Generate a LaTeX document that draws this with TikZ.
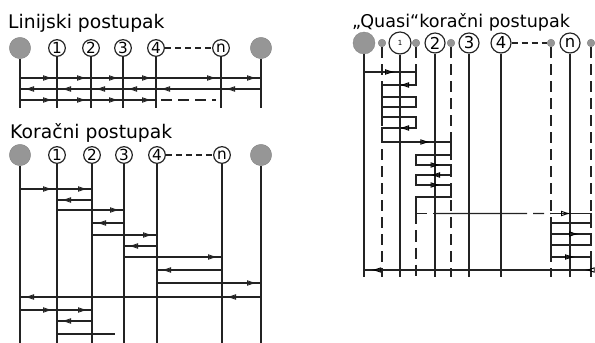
\documentclass[tikz,border=0pt]{standalone}
\usepackage{fontspec}
\setmainfont{DejaVu Sans}
\usetikzlibrary{positioning,arrows.meta,calc,decorations.markings}
\definecolor{InkGray}{RGB}{35,35,35}
\definecolor{DotGray}{RGB}{150,150,150}
\tikzset{
  stn/.style={circle, draw=InkGray, line width=1pt, fill=white, inner sep=0pt,
    minimum size=5mm, font=\fontsize{13}{13}\selectfont},
  bigstn/.style={stn, minimum size=6mm, font=\fontsize{14}{14}\selectfont},
  grd/.style={circle, fill=DotGray, draw=DotGray!85!black, line width=0.3pt,
    inner sep=0pt, minimum size=6.4mm},
  sgrd/.style={grd, minimum size=2.3mm},
  wire/.style={draw=InkGray, line width=1.15pt},
  dwire/.style={draw=InkGray, line width=1pt, dash pattern=on 3.3mm off 1.8mm},
  link/.style={draw=InkGray, line width=1pt, dash pattern=on 1.8mm off 1.2mm},
  ttl/.style={anchor=base west, inner sep=0pt, font=\fontsize{16}{18}\selectfont},
  fw/.style={postaction={decorate}, decoration={markings,
    mark=at position #1 with {\arrow{Latex[open, length=3mm, width=1.7mm, line width=0.8pt]}}}}
}

\begin{document}
\begin{tikzpicture}[x=0.3mm, y=-0.3mm]
\useasboundingbox (0,0) rectangle (595,343);

% Linijski postupak
\node[ttl] (t1) at (8,29) {Linijski postupak};
\node[grd] (la) at (20,48) {};
\node[stn] (l1) at (57,48) {1};
\node[stn] (l2) at (91,48) {2};
\node[stn] (l3) at (123,48) {3};
\node[stn] (l4) at (156,48) {4};
\node[stn] (ln) at (221,48) {n};
\node[grd] (lb) at (261,48) {};
\draw[link] (l4) -- (ln);
\foreach \s in {la,l1,l2,l3,l4,ln,lb} \draw[wire] (\s) -- (\s |- 0,108);
\foreach \a/\b in {la/l1,l1/l2,l2/l3,l3/l4,l4/ln,ln/lb}
  \draw[wire, fw=-1.2mm] (\a |- 0,78) -- (\b |- 0,78);
\foreach \a/\b in {lb/ln,ln/l4,l4/l3,l3/l2,l2/l1,l1/la}
  \draw[wire, fw=-1.2mm] (\a |- 0,89) -- (\b |- 0,89);
\foreach \a/\b in {la/l1,l1/l2,l2/l3,l3/l4}
  \draw[wire, fw=-1.2mm] (\a |- 0,100) -- (\b |- 0,100);
\draw[dwire] ($(l4 |- 0,100)!0.08!(ln |- 0,100)$) -- ($(l4 |- 0,100)!0.92!(ln |- 0,100)$);

% Koracni postupak
\node[ttl] (t2) at (10,139) {Koračni postupak};
\node[grd] (ka) at (20,155) {};
\node[stn] (k1) at (57,155) {1};
\node[stn] (k2) at (92,155) {2};
\node[stn] (k3) at (124,155) {3};
\node[stn] (k4) at (157,155) {4};
\node[stn] (kn) at (222,155) {n};
\node[grd] (kb) at (261,155) {};
\draw[link] (k4) -- (kn);
\foreach \s in {ka,k1,k2,k3,k4,kn,kb} \draw[wire] (\s) -- (\s |- 0,343);
\foreach \y/\a/\b in {189/ka/k1, 189/k1/k2, 200/k2/k1, 210/k1/k3, 223/k3/k2,
    235/k2/k4, 246/k4/k3, 257/k3/kn, 270/kn/k4, 283/k4/kb, 297/kb/kn, 297/kn/ka,
    310/ka/k1, 310/k1/k2, 321/k2/k1}
  \draw[wire, fw=-1.2mm] (\a |- 0,\y) -- (\b |- 0,\y);
\coordinate (kcut) at (115,334);
\draw[wire] (k1 |- kcut) -- (kcut);

% Quasi koracni postupak
\node[ttl, font=\fontsize{15}{18}\selectfont] (t3) at (352,28) {„Quasi“koračni postupak};
\node[grd, minimum size=6.6mm] (qa) at (364,43) {};
\node[sgrd] (qs1) at (382,43) {};
\node[bigstn, minimum size=6.6mm, font=\fontsize{6}{6}\selectfont] (q1) at (400,43) {1};
\node[sgrd] (qs2) at (416,43) {};
\node[bigstn] (q2) at (435,43) {2};
\node[sgrd] (qs3) at (451,43) {};
\node[bigstn] (q3) at (469,43) {3};
\node[bigstn] (q4) at (501,43) {4};
\node[sgrd] (qs4) at (551,43) {};
\node[bigstn] (qn) at (570,43) {n};
\node[sgrd] (qs5) at (591,43) {};
\draw[link] (q4) -- (qs4);
\foreach \s in {qa,q1,q2,q3,q4,qn} \draw[wire] (\s) -- (\s |- 0,277);
\foreach \s in {qs1,qs3,qs4,qs5} \draw[dwire] (\s) -- (\s |- 0,277);
\draw[dwire] (qs2) -- (qs2 |- 0,72);
\draw[dwire] (qs2 |- 0,213.5) -- (qs2 |- 0,277);
\draw[wire] (qa |- 0,72) -- (qs2 |- 0,72) |- (qs1 |- 0,85) |- (qs2 |- 0,97)
  |- (qs1 |- 0,107) |- (qs2 |- 0,117) |- (qs1 |- 0,128) |- (qs3 |- 0,142)
  |- (qs2 |- 0,155) |- (qs3 |- 0,165) |- (qs2 |- 0,175) |- (qs3 |- 0,185)
  |- (qs2 |- 0,197) -- (qs2 |- 0,213.5);
\draw[dwire] (qs2 |- 0,213.5) -- (q2 |- 0,213.5);
\coordinate (qcut) at ($(q4 |- 0,213.5)!0.3!(qs4 |- 0,213.5)$);
\draw[wire] (q2 |- 0,213.5) -- (qcut);
\draw[dwire] (qcut) -- (qs4 |- 0,213.5);
\draw[wire] (qs4 |- 0,213.5) -- (qs5 |- 0,213.5) |- (qs4 |- 0,223) |- (qs5 |- 0,234)
  |- (qs4 |- 0,245) |- (qs5 |- 0,257) |- (qa |- 0,270);
\foreach \y/\a/\b/\p in {72/qa/qs2/.6, 85/qs2/qs1/.5, 128/qs2/qs1/.5, 142/qs1/qs3/.7,
    165/qs2/qs3/.7, 175/qs3/qs2/.6, 185/qs2/qs3/.7, 213.5/qs4/qs5/.5,
    234/qs4/qs5/.7, 257/qs4/qs5/.6, 270/qs5/qn/.3, 270/q1/qa/.8}
  \path[fw=\p] (\a |- 0,\y) -- (\b |- 0,\y);
\end{tikzpicture}
\end{document}
